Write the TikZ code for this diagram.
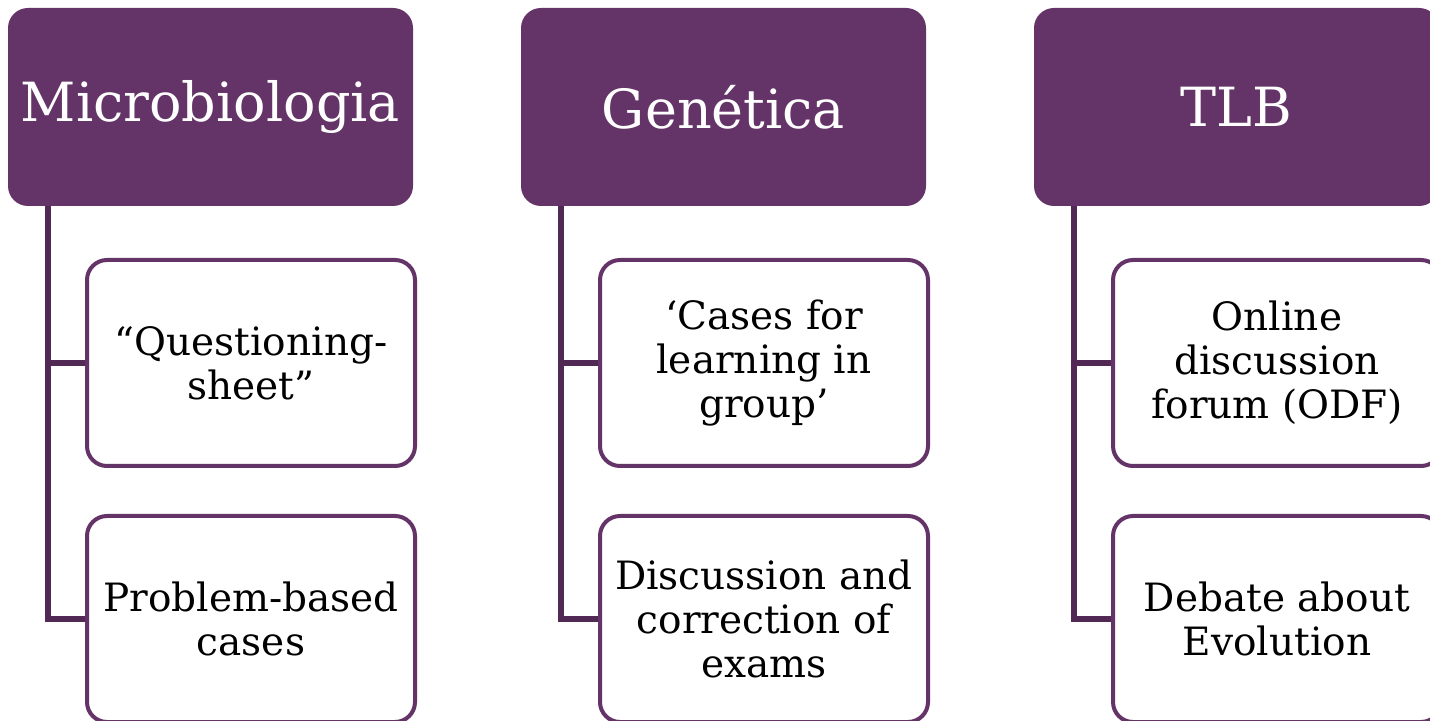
\documentclass[tikz,border=0pt]{standalone}
\usepackage{fontspec}
\setmainfont{DejaVu Serif}
\usetikzlibrary{positioning}

\definecolor{plum}{RGB}{100,51,103}
\definecolor{darkplum}{RGB}{82,40,84}

\tikzset{
  head/.style={rectangle, rounded corners=10pt, fill=plum, text=white,
    minimum width=202.5pt, minimum height=99pt, font=\fontsize{27}{32}\selectfont},
  item/.style={rectangle, rounded corners=10pt, draw=plum, line width=2pt, fill=white,
    minimum width=164pt, minimum height=103pt, align=center,
    font=\fontsize{19.5}{22}\selectfont},
  spine/.style={draw=darkplum, line width=2.6pt}
}

\begin{document}
\begin{tikzpicture}[x=0.5pt, y=-0.5pt]
 \clip (0,0) rectangle (1430,721);

 % column headings
 \node[head] (mic) at (210.5,107) {Microbiologia};
 \node[head] (gen) at (723.5,107) {Genética};
 \node[head] (tlb) at (1236.5,107) {TLB};

 % activities under each heading
 \node[item] (mic1) at (251,363) {``Questioning-\\sheet''};
 \node[item] (mic2) at (251,619) {Problem-based\\cases};
 \node[item] (gen1) at (764,363) {`Cases for\\learning in\\group'};
 \node[item] (gen2) at (764,619) {Discussion and\\correction of\\exams};
 \node[item] (tlb1) at (1277,363) {Online\\discussion\\forum (ODF)};
 \node[item] (tlb2) at (1277,619) {Debate about\\Evolution};

 % spines down the left side
 \coordinate (micS) at (48,206);
 \coordinate (genS) at (561,206);
 \coordinate (tlbS) at (1074,206);

 \foreach \c in {mic,gen,tlb} {
  \path[spine] (\c S) |- (\c 1.west);
  \path[spine] (\c S) |- (\c 2.west);
 }
\end{tikzpicture}
\end{document}
